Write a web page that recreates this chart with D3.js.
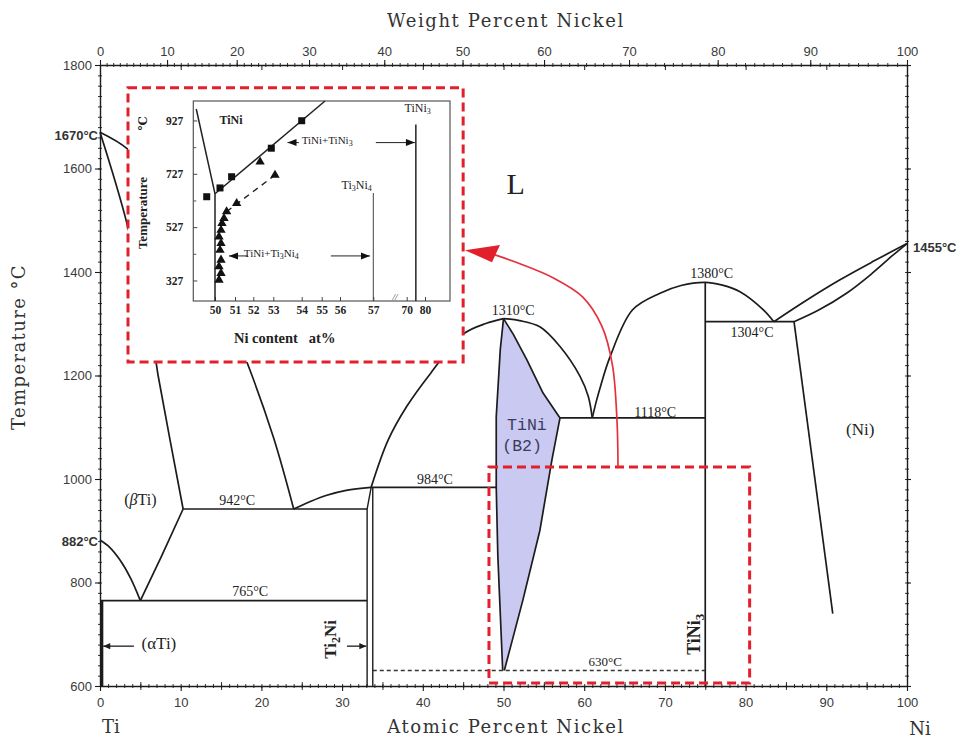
<!DOCTYPE html>
<html><head><meta charset="utf-8">
<script src="https://cdn.jsdelivr.net/npm/d3@7"></script>
<style>body{margin:0;background:#fff}</style>
</head><body>
<svg id="c" width="969" height="743"></svg>
<script>
// ---------- DATA ----------
const atTicks = [0,10,20,30,40,50,60,70,80,90,100];
const wtTicks = [0,10,20,30,40,50,60,70,80,90,100];
const tempTicks = [600,800,1000,1200,1400,1600,1800];

// phase boundaries [at% Ni, T °C]
const liquidusTi   = [[0,1670],[3.4,1638],[8,1560],[13,1420],[18.2,1226],[21.5,1080],[24,942]];
const solidusBetaTi= [[0,1670],[3.4,1490],[6.8,1240],[7.2,1200],[10.3,942]];
const curve882     = [[0,882],[1.2,868],[2.5,843],[3.8,808],[5,765]];
const betaLower    = [[10.3,942],[7.6,850],[5,765]];
const line942      = [[10.3,942],[33.1,942]];
const line765      = [[0,765],[33.1,765]];
const alphaTi      = [[0.25,765],[0.25,600]];
const liqEutPer    = [[24,942],[26,956],[28,968],[30.5,978],[33.6,984]];
const ti2niLeft    = [[33.1,600],[33.1,942],[33.6,984]];
const ti2niRight   = [[33.8,600],[33.8,984]];
const line984      = [[33.6,984],[49.1,984]];
const liqTiNiLeft  = [[33.6,984],[35.7,1075],[38,1140],[41,1205],[45,1280],[47.9,1301],[50,1310]];
const tiNiLeftB    = [[50,1310],[49.6,1250],[49.1,1120],[49.1,984],[49.3,850],[49.6,740],[49.9,630]];
const tiNiRightB   = [[50.1,630],[52.4,766],[54.5,900],[56,1037],[57,1118],[54.9,1166],[52.9,1230],[51.2,1280],[50,1310]];
const line1118     = [[57,1118],[75,1118]];
const liqTiNiRight = [[50,1310],[52,1306],[54.5,1294],[57,1256],[59.5,1198],[60.5,1160],[61,1118]];
const dome1380     = [[61,1118],[61.5,1150],[62,1178],[63.2,1236],[66,1327],[69.4,1359],[72,1374],[75,1380],[77,1375],[79.3,1362],[82.2,1327],[83.5,1304]];
const tiNi3Line    = [[75,1380],[75,600]];
const line1304     = [[75,1304],[86,1304]];
const liqNi        = [[83.5,1304],[87.5,1345],[91.7,1385],[96,1422],[100,1455]];
const solNi        = [[86,1304],[89,1326],[92.6,1360],[95.5,1395],[98.3,1433],[100,1455]];
const solvusNi     = [[86,1304],[90.8,740]];
const dashed630    = [[33.8,630],[75,630]];

// inset data
const insetYTicks = [327,527,727,927];
const insetYMinor = [427,627,827];
const insetXTicks = [50,51,52,53,54,55,56,57,70,80];
const insetBoundary = [[49.05,970],[50,652],[50,250]];
const insetSolvus   = [[50,652],[55.18,1000]];
const insetSquares  = [[49.58,641],[50.25,674],[50.83,716],[52.9,823],[54.0,926]];
const insetTriangles= [[52.34,772],[53.06,722],[51.09,616],[50.58,585],[50.45,560],[50.35,541],[50.3,516],[50.2,491],[50.3,466],[50.25,441],[50.3,404],[50.2,379],[50.3,354],[50.2,329]];
const insetDashed   = [[50.58,585],[53.06,722]];
const insetTi3Ni4   = [[57,655],[57,250]];
const insetTiNi3    = [[75,912],[75,250]];

// annotation (in main data units)
const insetBox = [3.47,45.0,1756,1226];
const zoomBox  = [48.2,80.5,1023,606];
const redCurve = [[64.19,1023],[64.06,1114],[63.5,1220],[62.2,1295],[59.8,1352],[56.13,1389],[52.04,1416],[48.95,1433]];
const redHead  = [[45.23,1442],[49.57,1452],[48.57,1419]];

// ---------- SCALES ----------
const svg = d3.select('#c');
const x = d3.scaleLinear().domain([0,100]).range([100,907]);
const y = d3.scaleLinear().domain([600,1800]).range([686,65]);
const wt2at = w => { if (w<=0) return 0; if (w>=100) return 100; const n=w/58.69, t=(100-w)/47.87; return 100*n/(n+t); };

const INK = '#1c1c1c';
const lin = d3.line().x(d=>x(d[0])).y(d=>y(d[1]));
const smooth = d3.line().x(d=>x(d[0])).y(d=>y(d[1])).curve(d3.curveCatmullRom.alpha(0.5));

function styleAxis(g, fs){
  g.select('.domain').attr('stroke',INK).attr('stroke-width',1.4);
  g.selectAll('.tick line').attr('stroke',INK).attr('stroke-width',1.1);
  g.selectAll('text').attr('font-family','Liberation Sans, Arial, sans-serif').attr('font-size',fs||13).attr('fill','#3a3a3a');
}
function minor(axisFn, scale, vals, size, tr){
  [size,-size].forEach(s=>{
    const g = svg.append('g').attr('transform',tr).call(axisFn(scale).tickValues(vals).tickSize(s).tickSizeOuter(0).tickFormat(''));
    g.select('.domain').remove();
    g.selectAll('.tick line').attr('stroke',INK).attr('stroke-width',0.9);
  });
}
const fmt = d3.format('d');

// ---------- AXES ----------
let gb = svg.append('g').attr('transform','translate(0,686)')
  .call(d3.axisBottom(x).tickValues(atTicks).tickSize(5).tickSizeOuter(0).tickPadding(7).tickFormat(fmt));
styleAxis(gb);
minor(d3.axisBottom, x, d3.range(0,101,1), 2, 'translate(0,686)');
minor(d3.axisBottom, x, d3.range(5,100,10), 4, 'translate(0,686)');
let gt = svg.append('g').attr('transform','translate(0,65)')
  .call(d3.axisTop(x).tickValues(wtTicks.map(wt2at)).tickSize(5).tickSizeOuter(0).tickPadding(4).tickFormat((d,i)=>wtTicks[i]));
styleAxis(gt);
minor(d3.axisTop, x, d3.range(0,101,1).map(wt2at), 2, 'translate(0,65)');
{ const g = svg.append('g').attr('transform','translate(0,65)').call(d3.axisTop(x).tickValues(atTicks).tickSize(-5).tickSizeOuter(0).tickFormat(''));
  g.select('.domain').remove(); g.selectAll('.tick line').attr('stroke',INK).attr('stroke-width',1); }
let gl = svg.append('g').attr('transform','translate(100,0)')
  .call(d3.axisLeft(y).tickValues(tempTicks).tickSize(5).tickSizeOuter(0).tickPadding(3).tickFormat(fmt));
styleAxis(gl);
minor(d3.axisLeft, y, d3.range(600,1801,20), 2, 'translate(100,0)');
let gr = svg.append('g').attr('transform','translate(907,0)')
  .call(d3.axisRight(y).tickValues(tempTicks).tickSize(4).tickSizeOuter(0).tickFormat(''));
styleAxis(gr);
minor(d3.axisRight, y, d3.range(600,1801,20), 2, 'translate(907,0)');

// ---------- TiNi (B2) region ----------
svg.append('path').attr('d', lin(tiNiLeftB.concat(tiNiRightB))).attr('fill','#c9c9f2').attr('stroke','none');

// ---------- PHASE LINES ----------
const pl = svg.append('g').attr('fill','none').attr('stroke',INK).attr('stroke-width',1.7).attr('stroke-linejoin','round');
[liquidusTi, solidusBetaTi, curve882, liqEutPer, liqTiNiLeft, liqTiNiRight, dome1380, liqNi, solNi].forEach(c=>pl.append('path').attr('d',smooth(c)));
[betaLower, line942, line765, line984, line1118, tiNi3Line, line1304, solvusNi, tiNiLeftB, tiNiRightB].forEach(c=>pl.append('path').attr('d',lin(c)));
[ti2niLeft, ti2niRight].forEach(c=>pl.append('path').attr('d',lin(c)).attr('stroke-width',1.4));
pl.append('path').attr('d',lin(alphaTi)).attr('stroke-width',2.6);
pl.append('path').attr('d',lin(dashed630)).attr('stroke','#333').attr('stroke-width',1.3).attr('stroke-dasharray','4,3');

// ---------- LABELS ----------
const serif = 'Liberation Serif, Times New Roman, serif';
const sans = 'Liberation Sans, Arial, sans-serif';
function lab(t, px, py, opt={}){
  const e = svg.append('text').attr('x',px).attr('y',py).text(t)
    .attr('font-family',opt.ff||serif).attr('font-size',opt.fs||14).attr('fill',opt.fill||'#222')
    .attr('text-anchor',opt.anchor||'middle');
  if(opt.fw) e.attr('font-weight',opt.fw);
  if(opt.ls) e.attr('letter-spacing',opt.ls);
  return e;
}
lab('1670°C', x(0)-2, y(1670)+8, {anchor:'end', fs:13, fw:'bold', ff:sans, fill:'#333'});
lab('882°C', x(0)-2, y(882)+6, {anchor:'end', fs:13, fw:'bold', ff:sans, fill:'#333'});
lab('1455°C', x(100)+6, y(1455)+8, {anchor:'start', fs:13, fw:'bold', ff:sans, fill:'#333'});
lab('1310°C', x(51.2), y(1310)-4, {fs:14});
lab('1380°C', x(75.8), y(1380)-4, {fs:14});
lab('1304°C', x(80.8), y(1304)+15, {fs:14});
lab('1118°C', x(68.8), y(1118)-1, {fs:14});
lab('984°C', x(41.5), y(984)-3, {fs:14});
lab('942°C', x(17), y(942)-4, {fs:14});
lab('765°C', x(18.6), y(765)-5, {fs:14});
lab('630°C', x(62.6), y(630)-4, {fs:13});
lab('L', x(51.5), y(1550), {fs:30});
{ const e = lab('', x(5), y(950), {fs:16});
  e.append('tspan').text('(');
  e.append('tspan').text('β').attr('font-style','italic');
  e.append('tspan').text('Ti)'); }
lab('(αTi)', x(7.3), y(672), {fs:17});
lab('(Ni)', x(94.2), y(1085), {fs:17});
lab('TiNi', x(52.9), y(1095), {fs:16.5, ff:'Liberation Mono, DejaVu Sans Mono, monospace', fill:'#3b3b5c'});
lab('(B2)', x(52.3), y(1055), {fs:16.5, ff:'Liberation Mono, DejaVu Sans Mono, monospace', fill:'#3b3b5c'});
{ const e = svg.append('text').attr('transform',`translate(${x(74.3)},${y(700)}) rotate(-90)`).attr('text-anchor','middle')
    .attr('font-family',serif).attr('font-size',18).attr('font-weight','bold').attr('fill','#222');
  e.append('tspan').text('TiNi'); e.append('tspan').text('3').attr('font-size',13).attr('dy',4); }
{ const e = svg.append('text').attr('transform',`translate(${x(29.3)},${y(690)}) rotate(-90)`).attr('text-anchor','middle')
    .attr('font-family',serif).attr('font-size',17).attr('font-weight','bold').attr('fill','#222');
  e.append('tspan').text('Ti'); e.append('tspan').text('2').attr('font-size',12).attr('dy',4); e.append('tspan').text('Ni').attr('dy',-4); }
function arrow(x1,y1,x2,y2,col,hs){
  const a = Math.atan2(y2-y1,x2-x1), h = hs||7;
  svg.append('line').attr('x1',x1).attr('y1',y1).attr('x2',x2).attr('y2',y2).attr('stroke',col||INK).attr('stroke-width',1.3);
  svg.append('path').attr('d',`M${x2},${y2}L${x2-h*Math.cos(a)+h*0.45*Math.sin(a)},${y2-h*Math.sin(a)-h*0.45*Math.cos(a)}L${x2-h*Math.cos(a)-h*0.45*Math.sin(a)},${y2-h*Math.sin(a)+h*0.45*Math.cos(a)}Z`).attr('fill',col||INK);
}
arrow(x(4.2), y(677), x(0.4), y(677));
arrow(x(30.6), y(677), x(33.0), y(677));

lab('Weight Percent Nickel', 506, 27, {fs:18, ff:'DejaVu Serif, serif', ls:1.6, fill:'#333'});
lab('Atomic Percent Nickel', 506, 733, {fs:18, ff:'DejaVu Serif, serif', ls:1.6, fill:'#333'});
lab('Ti', 111, 733, {fs:18, ff:'DejaVu Serif, serif', fill:'#333'});
lab('Ni', 920, 735, {fs:18, ff:'DejaVu Serif, serif', fill:'#333'});
svg.append('text').attr('transform','translate(25,347) rotate(-90)').attr('text-anchor','middle')
  .attr('font-family','DejaVu Serif, serif').attr('font-size',18).attr('letter-spacing',1.4).attr('fill','#333').text('Temperature °C');

// ---------- INSET ----------
const red = '#e2202c';
svg.append('rect').attr('x',x(insetBox[0])).attr('y',y(insetBox[2])).attr('width',x(insetBox[1])-x(insetBox[0])).attr('height',y(insetBox[3])-y(insetBox[2]))
  .attr('fill','#fff');
const ix = d3.scaleLinear().domain([48.9,50,51,52,53,54,55,56,57,63,70,80,94]).range([193.3,215,235,253.3,273.3,301.7,321.7,340,373.3,395,406.7,425,450]);
const iy = d3.scaleLinear().domain([250,1000]).range([301,101]);
const ilin = d3.line().x(d=>ix(d[0])).y(d=>iy(d[1]));
const ig = svg.append('g');
ig.append('rect').attr('x',ix(48.9)).attr('y',iy(1000)).attr('width',ix(94)-ix(48.9)).attr('height',iy(250)-iy(1000)).attr('fill','none').attr('stroke','#555').attr('stroke-width',1.2);
const iserif = serif;
let iya = ig.append('g').attr('transform',`translate(${ix(48.9)},0)`).call(d3.axisLeft(iy).tickValues(insetYTicks).tickSize(-4).tickSizeOuter(0).tickPadding(10));
iya.select('.domain').remove(); iya.selectAll('.tick line').attr('stroke','#444');
iya.selectAll('text').attr('font-family',iserif).attr('font-weight','bold').attr('font-size',11.5).attr('fill','#222');
let iym = ig.append('g').attr('transform',`translate(${ix(48.9)},0)`).call(d3.axisLeft(iy).tickValues(insetYMinor).tickSize(-3).tickSizeOuter(0).tickFormat(''));
iym.select('.domain').remove(); iym.selectAll('.tick line').attr('stroke','#555');
let ixa = ig.append('g').attr('transform',`translate(0,${iy(250)})`).call(d3.axisBottom(ix).tickValues(insetXTicks).tickSize(-4).tickSizeOuter(0).tickPadding(5));
ixa.select('.domain').remove(); ixa.selectAll('.tick line').attr('stroke','#444');
ixa.selectAll('text').attr('font-family',iserif).attr('font-weight','bold').attr('font-size',11.5).attr('fill','#222');
ig.append('text').attr('x',ix(63)).attr('y',iy(250)-1).attr('text-anchor','middle').attr('font-family',iserif).attr('font-size',9).attr('font-style','italic').attr('fill','#333').text('//');

ig.append('path').attr('d',ilin(insetBoundary)).attr('fill','none').attr('stroke','#222').attr('stroke-width',1.5);
ig.append('path').attr('d',ilin(insetSolvus)).attr('fill','none').attr('stroke','#222').attr('stroke-width',1.5);
ig.append('path').attr('d',ilin(insetDashed)).attr('fill','none').attr('stroke','#222').attr('stroke-width',1.4).attr('stroke-dasharray','6,5');
ig.append('path').attr('d',ilin(insetTi3Ni4)).attr('fill','none').attr('stroke','#444').attr('stroke-width',1);
ig.append('path').attr('d',ilin(insetTiNi3)).attr('fill','none').attr('stroke','#222').attr('stroke-width',1.5);
ig.selectAll('rect.sq').data(insetSquares).enter().append('rect').attr('class','sq')
  .attr('x',d=>ix(d[0])-3.5).attr('y',d=>iy(d[1])-3.5).attr('width',7).attr('height',7).attr('fill','#111');
ig.selectAll('path.tri').data(insetTriangles).enter().append('path').attr('class','tri')
  .attr('transform',d=>`translate(${ix(d[0])},${iy(d[1])})`).attr('d',d3.symbol(d3.symbolTriangle).size(38)).attr('fill','#111');

function ilab(t,px,py,fs,fw,anchor){ return ig.append('text').attr('x',px).attr('y',py).attr('font-family',iserif).attr('font-size',fs).attr('font-weight',fw||'normal').attr('fill','#222').attr('text-anchor',anchor||'middle').text(t); }
ilab('TiNi', ix(50.8), iy(915), 12, 'bold');
{ const e = ilab('', ix(55.3), iy(840), 11); e.append('tspan').text('TiNi+TiNi'); e.append('tspan').text('3').attr('font-size',8).attr('dy',2); }
{ const e = ilab('', ix(52.9), iy(415), 11); e.append('tspan').text('TiNi+Ti'); e.append('tspan').text('3').attr('font-size',8).attr('dy',2); e.append('tspan').text('Ni').attr('dy',-2); e.append('tspan').text('4').attr('font-size',8).attr('dy',2); }
{ const e = ilab('', ix(56.5), iy(670), 12); e.append('tspan').text('Ti'); e.append('tspan').text('3').attr('font-size',8).attr('dy',2); e.append('tspan').text('Ni').attr('dy',-2); e.append('tspan').text('4').attr('font-size',8).attr('dy',2); }
{ const e = ilab('', ix(76), iy(960), 12); e.append('tspan').text('TiNi'); e.append('tspan').text('3').attr('font-size',8).attr('dy',2); }
function iarrow(x1,y1,x2,y2){ const a=Math.atan2(y2-y1,x2-x1), h=9;
  ig.append('line').attr('x1',x1).attr('y1',y1).attr('x2',x2).attr('y2',y2).attr('stroke','#222').attr('stroke-width',1);
  ig.append('path').attr('d',`M${x2},${y2}L${x2-h*Math.cos(a)+3.5*Math.sin(a)},${y2-h*Math.sin(a)-3.5*Math.cos(a)}L${x2-h*Math.cos(a)-3.5*Math.sin(a)},${y2-h*Math.sin(a)+3.5*Math.cos(a)}Z`).attr('fill','#111'); }
iarrow(ix(53.9), iy(844), ix(53.5), iy(844));
iarrow(ix(57.7), iy(844), ix(74.5), iy(844));
iarrow(ix(51.7), iy(419), ix(50.7), iy(419));
iarrow(ix(55.5), iy(419), ix(56.9), iy(419));
ig.append('text').attr('transform',`translate(147,213) rotate(-90)`).attr('text-anchor','middle').attr('font-family',iserif).attr('font-weight','bold').attr('font-size',13).attr('fill','#222').text('Temperature');
ig.append('text').attr('transform',`translate(147,123) rotate(-90)`).attr('text-anchor','middle').attr('font-family','DejaVu Serif, serif').attr('font-weight','bold').attr('font-size',12).attr('fill','#222').text('℃');
ilab('Ni content   at%', ix(53.4), 343, 14.5, 'bold').style('white-space','pre');

// ---------- RED ANNOTATIONS ----------
svg.append('rect').attr('x',x(insetBox[0])).attr('y',y(insetBox[2])).attr('width',x(insetBox[1])-x(insetBox[0])).attr('height',y(insetBox[3])-y(insetBox[2]))
  .attr('fill','none').attr('stroke',red).attr('stroke-width',3).attr('stroke-dasharray','9,5');
svg.append('rect').attr('x',x(zoomBox[0])).attr('y',y(zoomBox[2])).attr('width',x(zoomBox[1])-x(zoomBox[0])).attr('height',y(zoomBox[3])-y(zoomBox[2]))
  .attr('fill','none').attr('stroke',red).attr('stroke-width',3).attr('stroke-dasharray','9,5');
svg.append('path').attr('d',smooth(redCurve)).attr('fill','none').attr('stroke','#e4323c').attr('stroke-width',1.7);
svg.append('path').attr('d',lin(redHead)+'Z').attr('fill',red);
</script>
</body></html>
